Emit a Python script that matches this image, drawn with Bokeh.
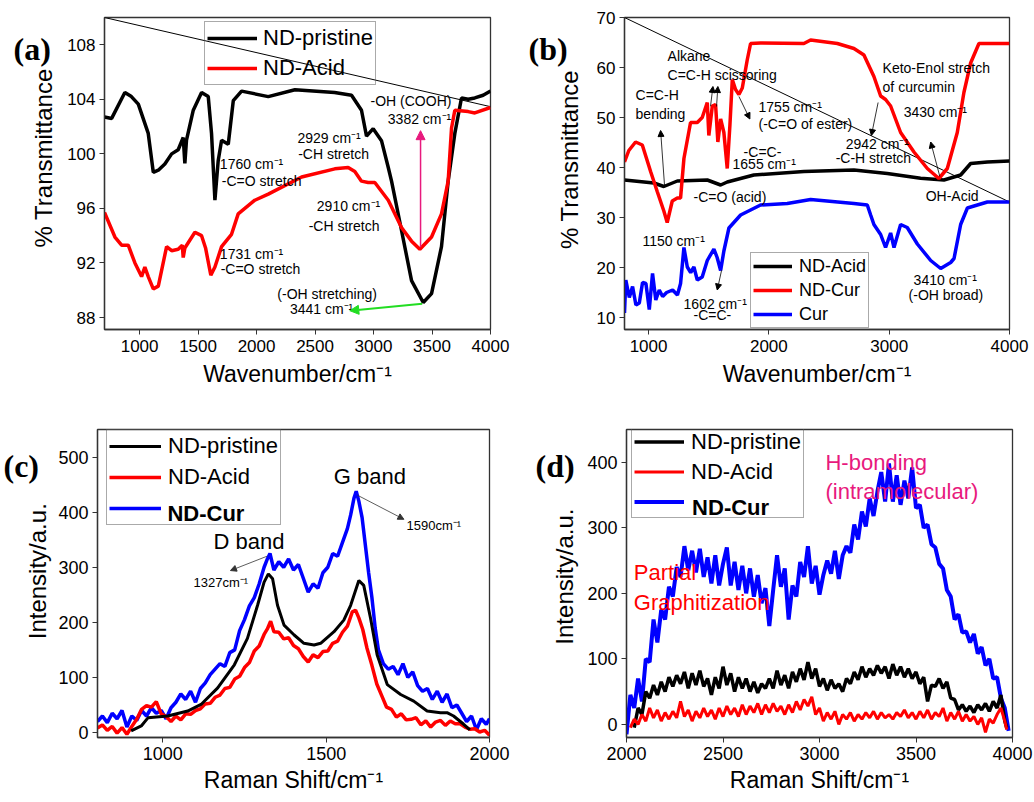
import math
from bokeh.plotting import figure
from bokeh.layouts import column, row
from bokeh.models import Range1d, Legend, LegendItem, Label, Arrow, NormalHead, FixedTicker
from bokeh.embed import file_html
from bokeh.resources import INLINE

FONT = "Liberation Sans"
SERIF = "Liberation Serif"
CM = "cm\u207b\u00b9"

# ---------------- Panel (a) FTIR ----------------
a_pristine_x = [700, 761, 874, 930, 989, 1074, 1117, 1160, 1216, 1274, 1330, 1373, 1387, 1401, 1459, 1530, 1587, 1615, 1644,
                1672, 1701, 1758, 1801, 1872, 2100, 2328, 2667, 2812, 2897, 2940, 2997, 3068, 3126, 3154, 3239, 3325,
                3425, 3496, 3581, 3638, 3695, 3752, 3809, 3866, 3937, 4000]
a_pristine_y = [102.7, 102.6, 104.5, 104.2, 103.65, 101.5, 98.65, 98.8, 99.26, 100.0, 100.3, 101.2, 99.3, 101.0, 103.2, 104.5,
                104.2, 101.5, 96.6, 99.5, 101.0, 100.7, 103.9, 104.6, 104.2, 104.7, 104.5, 104.3, 103.2, 101.3, 101.85,
                100.97, 99.0, 98.0, 94.4, 90.7, 89.1, 89.75, 93.2, 98.0, 101.5, 104.1, 104.0, 104.1, 104.3, 104.6]
a_acid_x = [700, 789, 846, 903, 960, 1017, 1045, 1074, 1117, 1160, 1231, 1274, 1330, 1365, 1373, 1387, 1473, 1530, 1564,
            1609, 1644, 1701, 1786, 1843, 1985, 2100, 2385, 2669, 2783, 2840, 2897, 2954, 3011, 3126, 3239, 3325, 3396,
            3496, 3581, 3638, 3667, 3695, 3809, 3866, 4000]
a_acid_y = [95.7, 93.9, 93.3, 93.3, 92.0, 91.0, 91.7, 91.0, 90.1, 90.3, 93.2, 92.9, 93.0, 93.3, 92.4, 93.1, 94.25, 94.0,
            93.1, 91.1, 91.7, 93.2, 94.1, 95.6, 96.6, 97.05, 98.3, 98.9, 99.0, 98.7, 98.0, 97.9, 97.9, 96.6, 94.6, 93.6,
            93.0, 93.9, 95.6, 98.0, 101.9, 103.2, 103.1, 103.0, 103.4]
a_diag_x = [700, 4000]
a_diag_y = [110.0, 103.46]
a_ticks_x = [1000, 1500, 2000, 2500, 3000, 3500, 4000]
a_ticks_y = [88, 92, 96, 100, 104, 108]
a_ann_text = ["-OH (COOH)", "3382 " + CM, "2929 " + CM, "-CH stretch", "1760 " + CM, "-C=O stretch",
              "2910 " + CM, "-CH stretch", "1731 " + CM, "-C=O stretch", "(-OH stretching)", "3441 " + CM]
a_ann_x = [3320, 3393, 2620, 2658, 1957, 2043, 2786, 2748, 1957, 2034, 2603, 2556]
a_ann_y = [103.9, 102.55, 101.2, 100.0, 99.26, 98.04, 96.2, 94.74, 92.67, 91.57, 89.74, 88.64]

# ---------------- Panel (b) FTIR ----------------
b_acid_x = [800, 1044, 1127, 1239, 1488, 1599, 1654, 1875, 2291, 2707, 2984, 3261, 3455, 3594, 3677, 3816, 4000]
b_acid_y = [37.5, 36.9, 36.2, 37.3, 37.5, 36.5, 37.1, 38.5, 39.2, 39.5, 38.8, 37.85, 37.5, 38.5, 40.8, 41.1, 41.3]
b_ndcur_x = [800, 836, 892, 948, 1017, 1072, 1127, 1155, 1197, 1239, 1266, 1294, 1349, 1405, 1446, 1488, 1501, 1530,
             1557, 1576, 1599, 1626, 1654, 1676, 1696, 1723, 1751, 1779, 1820, 1848, 1931, 2291, 2347, 2569, 2707,
             2790, 2873, 2929, 2970, 3012, 3095, 3206, 3317, 3413, 3483, 3566, 3621, 3677, 3746, 4000]
b_ndcur_y = [41.1, 43.4, 45.1, 44.5, 39.2, 35.2, 31.3, 29.0, 33.3, 33.9, 33.9, 41.8, 49.0, 49.0, 50.0, 53.0, 46.4, 52.3,
             52.6, 45.1, 49.7, 47.0, 39.8, 48.4, 57.6, 55.6, 54.6, 55.9, 61.5, 64.8, 64.9, 64.8, 65.5, 64.8, 63.8,
             62.5, 58.2, 54.3, 53.6, 52.3, 47.0, 43.1, 39.8, 37.8, 39.8, 47.0, 55.0, 60.9, 64.8, 64.8]
b_cur_x = [800, 811, 840, 867, 895, 923, 950, 978, 1006, 1033, 1060, 1089, 1117, 1150, 1200, 1240, 1266, 1294, 1322,
           1350, 1377, 1405, 1446, 1488, 1543, 1570, 1599, 1626, 1668, 1765, 1848, 1931, 2153, 2347, 2707, 2818,
           2846, 2873, 2929, 2970, 3012, 3040, 3095, 3150, 3234, 3345, 3428, 3511, 3539, 3594, 3650, 3816, 4000]
b_cur_y = [10.9, 17.5, 14.0, 16.2, 12.5, 12.9, 17.0, 16.8, 11.6, 18.8, 13.5, 15.5, 14.2, 15.0, 15.5, 14.5, 16.8, 24.0,
           20.1, 19.0, 20.1, 17.5, 18.1, 21.4, 23.7, 22.0, 19.4, 23.3, 27.9, 30.5, 31.5, 32.5, 32.8, 33.6, 32.8, 32.5,
           30.5, 28.6, 26.6, 24.0, 26.9, 24.0, 28.6, 28.0, 24.7, 21.4, 19.8, 21.0, 21.8, 28.6, 31.9, 33.1, 33.1]
b_diag_x = [800, 4000]
b_diag_y = [70.0, 33.1]
b_ticks_x = [1000, 2000, 3000, 4000]
b_ticks_y = [10, 20, 30, 40, 50, 60, 70]
b_ann_text = ["Alkane", "C=C-H scissoring", "C=C-H", "bending", "1755 " + CM, "(-C=O of ester)", "-C=C-",
              "1655 " + CM, "-C=O (acid)", "Keto-Enol stretch", "of curcumin", "3430 " + CM, "2942 " + CM,
              "-C-H stretch", "OH-Acid", "1150 " + CM, "1602 " + CM, "-C=C-", "3410 " + CM, "(-OH broad)"]
b_ann_x = [1158, 1158, 892, 892, 1914, 1914, 1790, 1698, 1374, 2945, 2945, 3120, 2638, 2555, 3303, 950, 1291, 1374,
           3203, 3161]
b_ann_y = [62.3, 58.6, 54.6, 50.7, 52.2, 48.7, 43.2, 40.8, 34.1, 59.9, 56.2, 51.1, 44.75, 42.0, 34.3, 25.4, 12.8,
           10.6, 17.5, 14.5]
b_arrow_x0 = [1133, 1515, 1565, 1751, 3421, 2908, 1607]
b_arrow_y0 = [36.3, 52.25, 52.2, 54.2, 38.2, 53.0, 19.45]
b_arrow_x1 = [1100, 1535, 1576, 1842, 3345, 2852, 1571]
b_arrow_y1 = [47.4, 56.2, 56.2, 49.7, 45.1, 46.4, 15.5]

# ---------------- Panel (c) Raman 800-2000 ----------------
c_pristine_x = [903, 934, 955, 1015, 1076, 1117, 1168, 1219, 1259, 1290, 1310, 1323, 1336, 1351, 1371, 1402, 1432,
                1463, 1483, 1524, 1554, 1575, 1600, 1615, 1636, 1656, 1687, 1728, 1768, 1809, 1850, 1870, 1890, 1921,
                1940]
c_pristine_y = [3, 12, 27, 30, 39, 51, 81, 123, 171, 231, 273, 288, 279, 231, 195, 177, 162, 159, 162, 183, 204, 231,
                276, 267, 207, 141, 87, 69, 57, 39, 36, 36, 30, 15, 5]
c_acid_x = [800, 815, 830, 845, 860, 875, 890, 905, 920, 935, 950, 965, 980, 995, 1010, 1025, 1040, 1055, 1070, 1085,
            1100, 1115, 1130, 1145, 1160, 1175, 1190, 1205, 1220, 1235, 1250, 1265, 1280, 1295, 1310, 1320, 1330,
            1340, 1355, 1370, 1385, 1400, 1415, 1430, 1445, 1460, 1475, 1490, 1505, 1520, 1535, 1550, 1565, 1580,
            1590, 1600, 1612, 1625, 1640, 1655, 1670, 1685, 1700, 1715, 1730, 1745, 1760, 1775, 1790, 1805, 1820,
            1835, 1850, 1865, 1880, 1895, 1910, 1925, 1940, 1955, 1970, 1985, 2000]
c_acid_y = [8, 14, 4, 11, -1, 9, -3, 11, 24, 42, 49, 46, 56, 34, 29, 20, 30, 23, 34, 33, 40, 43, 52, 53, 64, 68, 80,
            82, 97, 102, 118, 127, 148, 157, 178, 188, 202, 183, 182, 170, 172, 158, 152, 138, 128, 141, 136, 147, 148,
            162, 166, 182, 193, 219, 222, 208, 187, 153, 122, 88, 67, 46, 42, 28, 34, 23, 24, 27, 14, 21, 10, 19, 22,
            13, 21, 16, 16, 10, 6, 7, 1, 4, -5]
c_cur_x = [800, 815, 830, 845, 860, 875, 890, 905, 920, 935, 950, 965, 980, 995, 1010, 1025, 1040, 1055, 1070, 1085,
           1100, 1115, 1130, 1145, 1160, 1175, 1190, 1205, 1220, 1235, 1250, 1265, 1280, 1295, 1310, 1320, 1328,
           1340, 1355, 1370, 1385, 1400, 1415, 1430, 1445, 1460, 1475, 1490, 1505, 1520, 1535, 1550, 1565, 1575,
           1585, 1592, 1600, 1610, 1620, 1630, 1640, 1650, 1660, 1675, 1690, 1705, 1720, 1735, 1750, 1765, 1780,
           1795, 1810, 1825, 1840, 1855, 1870, 1885, 1900, 1915, 1930, 1945, 1960, 1975, 1990, 2000]
c_cur_y = [20, 30, 18, 35, 25, 40, 10, 30, 22, 40, 30, 45, 35, 40, 25, 45, 55, 70, 60, 75, 55, 80, 90, 105, 115, 125,
           120, 145, 150, 185, 205, 230, 245, 270, 300, 315, 325, 295, 310, 300, 315, 295, 305, 280, 255, 270, 262,
           290, 300, 325, 320, 345, 370, 395, 425, 438, 420, 390, 340, 290, 245, 190, 150, 125, 115, 120, 105, 125,
           100, 110, 85, 75, 80, 60, 75, 55, 70, 45, 50, 35, 20, 30, 5, 25, 15, 25]
c_ticks_x = [1000, 1500, 2000]
c_ticks_y = [0, 100, 200, 300, 400, 500]
c_ann_text = ["D band", "G band", "1327cm\u207b\u00b9", "1590cm\u207b\u00b9"]
c_ann_x = [1264, 1634, 1094, 1746]
c_ann_y = [347, 464, 273, 376]
c_arrow_x0 = [1319, 1595]
c_arrow_y0 = [320, 431]
c_arrow_x1 = [1207, 1738]
c_arrow_y1 = [294, 387]

# ---------------- Panel (d) Raman 2000-4000 ----------------
d_cur_x = [2000, 2020, 2040, 2060, 2080, 2100, 2120, 2140, 2160, 2180, 2200, 2220, 2240, 2260, 2280, 2300, 2320, 2340,
           2360, 2380, 2400, 2420, 2440, 2460, 2480, 2500, 2520, 2540, 2560, 2580, 2600, 2620, 2640, 2660, 2680,
           2700, 2720, 2740, 2760, 2780, 2800, 2820, 2840, 2860, 2880, 2900, 2920, 2940, 2960, 2980, 3000, 3020,
           3040, 3060, 3080, 3100, 3120, 3140, 3160, 3180, 3200, 3220, 3240, 3260, 3280, 3300, 3320, 3340, 3360,
           3380, 3400, 3420, 3440, 3460, 3480, 3500, 3520, 3540, 3560, 3580, 3600, 3620, 3640, 3660, 3680, 3700,
           3720, 3740, 3760, 3780, 3800, 3820, 3840, 3860, 3880, 3900, 3920, 3940, 3960, 3980]
d_cur_y = [-15, 45, 25, 70, 35, 100, 95, 160, 125, 175, 160, 210, 195, 240, 225, 272, 235, 265, 232, 268, 225, 255,
           215, 258, 212, 245, 270, 212, 248, 205, 242, 200, 238, 195, 228, 185, 208, 150, 205, 258, 210, 238, 160,
           212, 195, 248, 225, 272, 215, 242, 198, 228, 250, 230, 265, 222, 258, 272, 262, 305, 282, 325, 302, 345,
           318, 355, 385, 340, 398, 340, 380, 335, 372, 345, 392, 330, 335, 300, 305, 275, 270, 245, 238, 205, 195,
           160, 168, 140, 142, 125, 138, 108, 118, 90, 100, 70, 72, 40, 25, -10]
d_pristine_x = [2040, 2060, 2080, 2100, 2120, 2140, 2160, 2180, 2200, 2220, 2240, 2260, 2280, 2300, 2320, 2340, 2360,
                2380, 2400, 2420, 2440, 2460, 2480, 2500, 2520, 2540, 2560, 2580, 2600, 2620, 2640, 2660, 2680, 2700,
                2720, 2740, 2760, 2780, 2800, 2820, 2840, 2860, 2880, 2900, 2920, 2940, 2960, 2980, 3000, 3020, 3040,
                3060, 3080, 3100, 3120, 3140, 3160, 3180, 3200, 3220, 3240, 3260, 3280, 3300, 3320, 3340, 3360, 3380,
                3400, 3420, 3440, 3460, 3480, 3500, 3520, 3540, 3560, 3580, 3600, 3620, 3640, 3660, 3680, 3700, 3720,
                3740, 3760, 3780, 3800, 3820, 3840, 3860, 3880, 3900, 3920, 3940, 3960, 3970]
d_pristine_y = [-5, 25, 15, 50, 40, 60, 45, 65, 50, 72, 58, 75, 62, 80, 55, 78, 60, 82, 58, 70, 45, 72, 55, 88, 60, 78,
                50, 72, 55, 70, 50, 65, 48, 62, 55, 70, 55, 82, 60, 75, 55, 80, 65, 85, 68, 95, 70, 85, 58, 70, 52, 68,
                55, 62, 50, 70, 62, 80, 68, 88, 72, 85, 75, 90, 78, 88, 70, 92, 75, 88, 72, 85, 70, 80, 62, 72, 35, 60,
                58, 70, 55, 65, 40, 38, 22, 30, 20, 28, 18, 30, 22, 32, 20, 35, 25, 45, 5, -5]
d_acid_x = [2020, 2040, 2060, 2080, 2100, 2120, 2140, 2160, 2180, 2200, 2220, 2240, 2260, 2280, 2300, 2320, 2340, 2360,
            2380, 2400, 2420, 2440, 2460, 2480, 2500, 2520, 2540, 2560, 2580, 2600, 2620, 2640, 2660, 2680, 2700,
            2720, 2740, 2760, 2780, 2800, 2820, 2840, 2860, 2880, 2900, 2920, 2940, 2960, 2980, 3000, 3020, 3040,
            3060, 3080, 3100, 3120, 3140, 3160, 3180, 3200, 3220, 3240, 3260, 3280, 3300, 3320, 3340, 3360, 3380,
            3400, 3420, 3440, 3460, 3480, 3500, 3520, 3540, 3560, 3580, 3600, 3620, 3640, 3660, 3680, 3700, 3720,
            3740, 3760, 3780, 3800, 3820, 3840, 3860, 3880, 3900, 3920, 3940, 3960, 3970]
d_acid_y = [-5, 8, 0, 15, 5, 25, 10, 22, 5, 18, 8, 20, 10, 35, 12, 22, 5, 20, 10, 25, 12, 22, 8, 25, 12, 28, 15, 25,
            12, 30, 15, 28, 18, 32, 15, 30, 18, 32, 20, 28, 15, 30, 18, 35, 22, 38, 28, 42, 15, 25, 5, 18, 8, 20, 0,
            15, 8, 18, 5, 15, 8, 18, 10, 20, 8, 18, 10, 15, 8, 18, 12, 22, 10, 18, 8, 20, 10, 22, 8, 18, 12, 25, 5,
            18, 8, 20, 5, 15, 5, 12, 0, 10, -12, 8, 2, 15, 25, 5, -8]
d_ticks_x = [2000, 2500, 3000, 3500, 4000]
d_ticks_y = [0, 100, 200, 300, 400]
d_ann_text = ["H-bonding", "(intramolecular)", "Partial", "Graphitization"]
d_ann_x = [3031, 3031, 2038, 2038]
d_ann_y = [400, 355, 232, 186]
d_ann_color = ["#E8197D", "#E8197D", "#FF0000", "#FF0000"]

# panel letters and y-axis titles (drawn in a narrow gutter left of each plot)
panel_letters = ["(a)", "(b)", "(c)", "(d)"]
y_titles = ["% Transmittance", "% Transmittance", "Intensity/a.u.", "Intensity/a.u."]


def make_fig(w, h, xr, yr, xt, yt, mb, xlabel):
    p = figure(width=w, height=h, x_range=Range1d(*xr), y_range=Range1d(*yr), output_backend="svg",
               toolbar_location=None, min_border_left=mb[0], min_border_right=mb[1], min_border_top=mb[2],
               min_border_bottom=mb[3])
    p.xgrid.visible = False
    p.ygrid.visible = False
    p.outline_line_color = "#333333"
    p.outline_line_width = 1.3
    p.background_fill_color = "white"
    p.border_fill_color = "white"
    p.xaxis.ticker = FixedTicker(ticks=xt)
    p.yaxis.ticker = FixedTicker(ticks=yt)
    p.xaxis.axis_label = xlabel
    for ax in (p.xaxis[0], p.yaxis[0]):
        ax.major_tick_out = 5
        ax.major_tick_in = 0
        ax.minor_tick_out = 0
        ax.minor_tick_in = 0
        ax.axis_line_color = "#333333"
        ax.axis_line_width = 1.3
        ax.major_tick_line_color = "#333333"
        ax.major_label_text_font = FONT
        ax.major_label_text_font_size = "17px"
        ax.major_label_text_color = "black"
        ax.axis_label_text_font = FONT
        ax.axis_label_text_font_size = "23px"
        ax.axis_label_text_font_style = "normal"
        ax.axis_label_text_color = "black"
    p.xaxis.major_label_standoff = 5
    p.xaxis.axis_label_standoff = 6
    p.yaxis.major_label_standoff = 4
    return p


def make_gutter(w, h, letter, lx, ly, title, tx, ty):
    g = figure(width=w, height=h, x_range=Range1d(0, w), y_range=Range1d(0, h), output_backend="svg",
               toolbar_location=None, min_border=0, x_axis_type=None, y_axis_type=None)
    g.xgrid.visible = False
    g.ygrid.visible = False
    g.outline_line_color = None
    g.background_fill_color = "white"
    g.border_fill_color = "white"
    g.add_layout(Label(x=lx, y=ly, text=letter, text_font=SERIF, text_font_size="32px", text_font_style="bold",
                       text_align="left", text_baseline="middle", text_color="black"))
    g.add_layout(Label(x=tx, y=ty, text=title, text_font=FONT, text_font_size="24px", text_align="center",
                       text_baseline="middle", angle=math.pi / 2, text_color="black"))
    return g


def add_texts(p, xs, ys, texts, size, align="center", colors=None, bold=False, font=FONT):
    for i, (x, y, t) in enumerate(zip(xs, ys, texts)):
        p.add_layout(Label(x=x, y=y, text=t, text_font=font, text_font_size=size, text_align=align,
                           text_baseline="middle", text_color=(colors[i] if colors else "black"),
                           text_font_style=("bold" if bold else "normal")))


def add_arrows(p, x0, y0, x1, y1, color="black", width=1.0, size=7):
    for a, b, c, d in zip(x0, y0, x1, y1):
        p.add_layout(Arrow(end=NormalHead(size=size, fill_color=color, line_color=color), x_start=a, y_start=b,
                           x_end=c, y_end=d, line_color=color, line_width=width))


def make_legend(items, x, y, size, glyph_w, row_h, spacing, standoff):
    return Legend(items=items, location=(x, y), label_text_font=FONT, label_text_font_size=size,
                  label_text_color="black", glyph_width=glyph_w, glyph_height=row_h, label_height=row_h,
                  spacing=spacing, padding=2, margin=0, label_standoff=standoff, border_line_color="#555555",
                  border_line_width=1.2, background_fill_alpha=0.0)


# ---- figure a
ga = make_gutter(60, 400, panel_letters[0], 13, 359, y_titles[0], 43, 220)
pa = make_fig(460, 400, (700, 4000), (87.12, 110.0), a_ticks_x, a_ticks_y, (44, 30, 17, 71), "Wavenumber/" + CM)
pa.line(a_diag_x, a_diag_y, line_color="black", line_width=1)
ra1 = pa.line(a_pristine_x, a_pristine_y, line_color="black", line_width=3.5)
ra2 = pa.line(a_acid_x, a_acid_y, line_color="#FF0000", line_width=3.5)
add_texts(pa, a_ann_x, a_ann_y, a_ann_text, "14px")
add_arrows(pa, [3402], [93.15], [3402], [101.7], color="#E8197D", width=1.5, size=9)
add_arrows(pa, [3416], [89.0], [2797], [88.5], color="#22DD22", width=2, size=9)
leg_a = make_legend([LegendItem(label="ND-pristine", renderers=[ra1]), LegendItem(label="ND-Acid", renderers=[ra2])],
                    100, 244, "22px", 50, 28, 2, 6)
pa.add_layout(leg_a)

# ---- figure b
gb = make_gutter(66, 400, panel_letters[1], 8, 359, y_titles[1], 49, 218)
pb = make_fig(448, 400, (800, 4000), (7.6, 70.0), b_ticks_x, b_ticks_y, (38, 25, 17, 67), "Wavenumber/" + CM)
pb.line(b_diag_x, b_diag_y, line_color="black", line_width=1)
rb1 = pb.line(b_acid_x, b_acid_y, line_color="black", line_width=3.5)
rb2 = pb.line(b_ndcur_x, b_ndcur_y, line_color="#FF0000", line_width=3.5)
rb3 = pb.line(b_cur_x, b_cur_y, line_color="#0000FF", line_width=3.5)
add_texts(pb, b_ann_x, b_ann_y, b_ann_text, "14px", align="left")
add_arrows(pb, b_arrow_x0, b_arrow_y0, b_arrow_x1, b_arrow_y1, color="black", width=0.8, size=6)
leg_b = make_legend([LegendItem(label="ND-Acid", renderers=[rb1]), LegendItem(label="ND-Cur", renderers=[rb2]),
                     LegendItem(label="Cur", renderers=[rb3])], 126, 1, "18px", 39, 22, 2, 7)
pb.add_layout(leg_b)

# ---- figure c
gc = make_gutter(52, 402, panel_letters[2], 3, 355, y_titles[2], 37, 217)
pc = make_fig(468, 402, (800, 2000), (-9, 550), c_ticks_x, c_ticks_y, (45, 31, 29, 62), "Raman Shift/" + CM)
pc.xaxis.major_label_text_font_size = "18px"
pc.yaxis.major_label_text_font_size = "18px"
pc.xaxis.major_label_standoff = 4
pc.xaxis.axis_label_standoff = 4
rc3 = pc.line(c_cur_x, c_cur_y, line_color="#0000FF", line_width=3.5)
rc2 = pc.line(c_acid_x, c_acid_y, line_color="#FF0000", line_width=3.5)
rc1 = pc.line(c_pristine_x, c_pristine_y, line_color="black", line_width=3)
add_texts(pc, c_ann_x[:2], c_ann_y[:2], c_ann_text[:2], "22px")
add_texts(pc, c_ann_x[2:], c_ann_y[2:], c_ann_text[2:], "13px", align="left")
add_arrows(pc, c_arrow_x0, c_arrow_y0, c_arrow_x1, c_arrow_y1, color="#333333", width=0.8, size=6)
leg_c = make_legend([LegendItem(label="ND-pristine", renderers=[rc1]), LegendItem(label="ND-Acid", renderers=[rc2]),
                     LegendItem(label=" ", renderers=[rc3])], 9, 212, "22px", 52, 28, 3, 7)
pc.add_layout(leg_c)
add_texts(pc, [1014], [397], ["ND-Cur"], "22px", align="left", bold=True)

# ---- figure d
gd = make_gutter(62, 402, panel_letters[3], 15, 354, y_titles[3], 44, 210)
pd_ = make_fig(452, 402, (2000, 4000), (-20, 450), d_ticks_x, d_ticks_y, (44, 22, 25, 65), "Raman Shift/" + CM)
pd_.xaxis.major_label_text_font_size = "18px"
pd_.yaxis.major_label_text_font_size = "18px"
pd_.xaxis.major_label_standoff = 4
pd_.xaxis.axis_label_standoff = 4
rd3 = pd_.line(d_cur_x, d_cur_y, line_color="#0000FF", line_width=4)
rd1 = pd_.line(d_pristine_x, d_pristine_y, line_color="black", line_width=3.5)
rd2 = pd_.line(d_acid_x, d_acid_y, line_color="#FF0000", line_width=3)
add_texts(pd_, d_ann_x, d_ann_y, d_ann_text, "22px", align="left", colors=d_ann_color)
leg_d = make_legend([LegendItem(label="ND-pristine", renderers=[rd1]), LegendItem(label="ND-Acid", renderers=[rd2]),
                     LegendItem(label=" ", renderers=[rd3])], 5, 219, "22px", 50, 27, 3, 7)
pd_.add_layout(leg_d)
add_texts(pd_, [2340], [331], ["ND-Cur"], "22px", align="left", bold=True)

layout = column(row(ga, pa, gb, pb), row(gc, pc, gd, pd_))
open("out.html", "w").write(file_html(layout, INLINE))
